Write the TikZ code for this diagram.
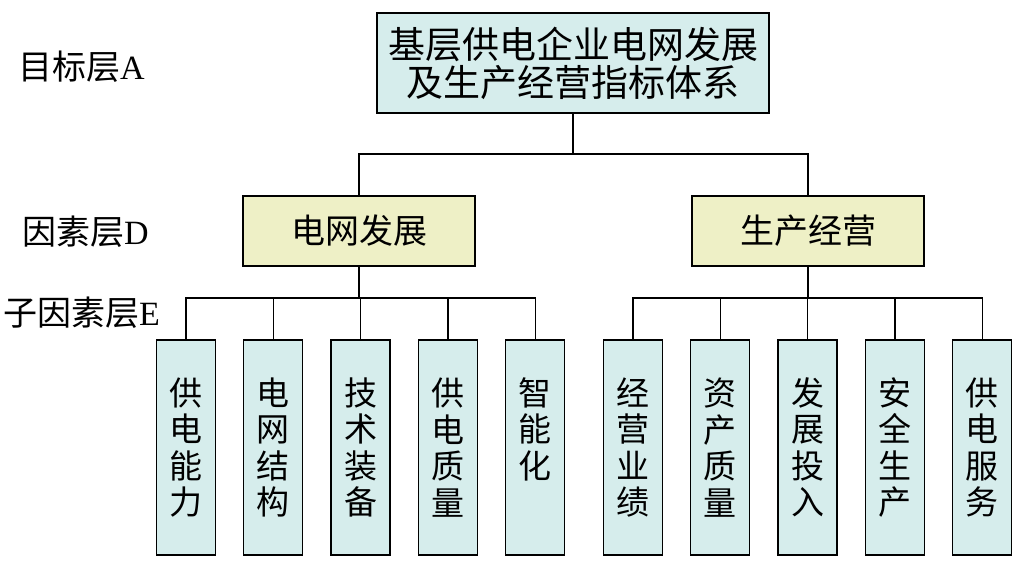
\documentclass[tikz,border=0pt]{standalone}
\usepackage{fontspec}
\setmainfont{Liberation Serif}
\newfontfamily\cjk{Noto Sans CJK SC}
\usetikzlibrary{positioning}
\definecolor{boxcyan}{RGB}{214,237,236}
\definecolor{boxyellow}{RGB}{238,240,198}

\begin{document}
\begin{tikzpicture}[
    x=1pt, y=-1pt,
    node distance=27pt,
    goal/.style={rectangle, draw, line width=1.3pt, fill=boxcyan, minimum width=392pt, minimum height=100pt, inner sep=0pt, align=center, font=\cjk\fontsize{37}{38}\selectfont},
    factor/.style={rectangle, draw, line width=1.3pt, fill=boxyellow, minimum width=232pt, minimum height=70pt, inner sep=0pt, font=\cjk\fontsize{34}{34}\selectfont},
    sub/.style={rectangle, draw, line width=1.3pt, fill=boxcyan, minimum width=59pt, minimum height=215pt, inner sep=0pt, align=center, font=\cjk\fontsize{33}{36.5}\selectfont},
    layer/.style={inner sep=0pt, anchor=west, font=\fontsize{34}{34}\selectfont},
    link/.style={line width=1.3pt},
]
    \useasboundingbox (0,0) rectangle (1023,570);

    % layer names
    \node[layer] (la) at (18,67) {{\cjk 目标层}A};
    \node[layer] (ld) at (22,232) {{\cjk 因素层}D};
    \node[layer] (le) at (3,313) {{\cjk 子因素层}E};

    % goal and factors
    \node[goal] (top) at (573,63) {基层供电企业电网发展\\及生产经营指标体系};
    \node[factor] (d1) at (359,231) {电网发展};
    \node[factor] (d2) at (808,231) {生产经营};

    % sub-factors
    \node[sub] (e1) at (186,447.5) {供\\电\\能\\力};
    \node[sub, right=of e1] (e2) {电\\网\\结\\构};
    \node[sub, right=of e2] (e3) {技\\术\\装\\备};
    \node[sub, right=of e3] (e4) {供\\电\\质\\量};
    \node[sub, right=of e4] (e5) {智\\能\\化\\\phantom{化}};
    \node[sub] (f1) at (633,447.5) {经\\营\\业\\绩};
    \node[sub, right=of f1] (f2) {资\\产\\质\\量};
    \node[sub, right=of f2] (f3) {发\\展\\投\\入};
    \node[sub, right=of f3] (f4) {安\\全\\生\\产};
    \node[sub, right=of f4] (f5) {供\\电\\服\\务};

    % connectors
    \coordinate (busA) at (573,154);
    \coordinate (busD) at (359,298);
    \coordinate (busF) at (808,298);
    \draw[link] (top.south) -- (busA);
    \draw[link] (busA) -| (d1.north);
    \draw[link] (busA) -| (d2.north);
    \draw[link] (d1.south) -- (busD);
    \draw[link] (d2.south) -- (busF);
    \foreach \i in {1,...,5} {
        \draw[link] (busD) -| (e\i.north);
        \draw[link] (busF) -| (f\i.north);
    }
\end{tikzpicture}
\end{document}
